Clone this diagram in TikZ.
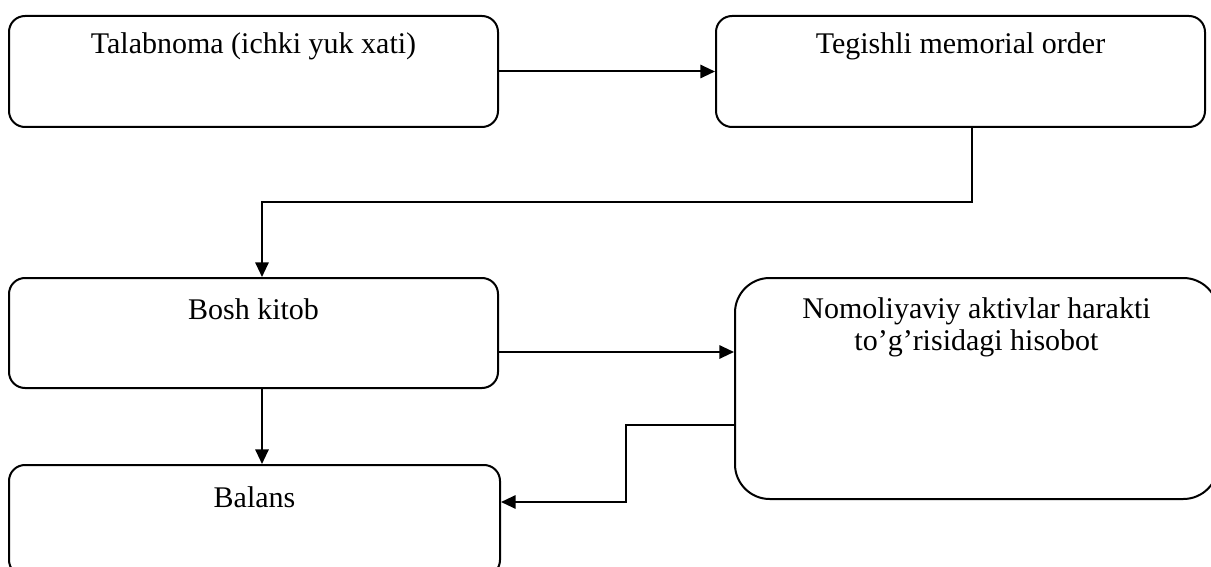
\documentclass[tikz,border=0pt]{standalone}
\usepackage{fontspec}
\setmainfont{Liberation Serif}
\usetikzlibrary{arrows.meta,positioning,calc}

\begin{document}
\begin{tikzpicture}[x=0.75pt, y=-0.75pt,
       >={Triangle[length=11pt,width=10pt]}, line width=1.5pt,
       every node/.style={font=\fontsize{22.5}{24}\selectfont},
       docbox/.style 2 args = {rectangle, draw, rounded corners=#2,
                               minimum width=#1, minimum height=83.25pt, inner sep=0pt},
       boxtext/.style = {align=center, inner sep=0pt, text height=1.5ex, text depth=.25ex}]
	\useasboundingbox (0,0) rectangle (1211,567);

	%% Documents
	\node [docbox={366.75pt}{12pt}] (tal) at (253.5,71.5) {};
	\node [docbox={366.75pt}{12pt},right=162pt of tal] (teg) {};
	\node [docbox={366.75pt}{12pt},below=111.75pt of tal,minimum height=82.5pt] (bosh) {};
	\node [docbox={368.25pt}{12pt},below=56.25pt of bosh.south west,anchor=north west] (balans) {};
	\node [docbox={362.25pt}{26pt},minimum height=165.75pt,
	       right=176.25pt of bosh.north east,anchor=north west] (nom) {};

	%% Texts
	\node [boxtext] (taltxt) at ($(tal.north)+(0,35)$) {Talabnoma (ichki yuk xati)};
	\node [boxtext] (tegtxt) at ($(teg.north)+(0,35)$) {Tegishli memorial order};
	\node [boxtext] (boshtxt) at ($(bosh.north)+(0,39)$) {Bosh kitob};
	\node [boxtext] (balanstxt) at ($(balans.north)+(0,40)$) {Balans};
	\node [align=center,inner sep=0pt] (nomtxt) at ($(nom.north)+(0,50)$)
	      {Nomoliyaviy aktivlar harakti\\to’g’risidagi hisobot};

	%% Simple paths
	\draw[->] (tal) -- (teg);
	\draw[->] ($(bosh.east)+(0,19)$) coordinate (b2n) -- (b2n -| nom.west);
	\draw[->] ($(bosh.south)+(8.5,0)$) -- ($(balans.north)+(7.5,0)$);
	%% Complex paths
	\draw[->] ($(teg.south)+(11.5,0)$) |- ($(bosh.north)+(8.5,-75)$) -- ($(bosh.north)+(8.5,0)$);
	\draw[->] ($(nom.west)+(0,36.5)$) -- ++(-108,0) |- ($(balans.east)+(0,-18.5)$);
\end{tikzpicture}
\end{document}
